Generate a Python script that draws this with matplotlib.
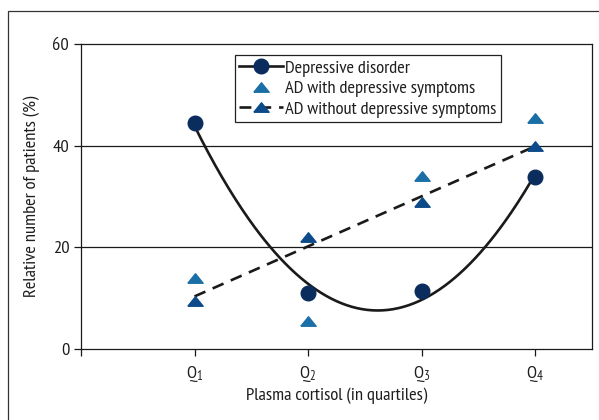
import matplotlib
matplotlib.use('Agg')
import matplotlib.pyplot as plt
import numpy as np

plt.rcParams['font.family'] = ['PT Sans Narrow', 'DejaVu Sans']

# quartile positions and labels
quartiles = [1, 2, 3, 4]
qlabels = ['$\\mathregular{Q_1}$', '$\\mathregular{Q_2}$', '$\\mathregular{Q_3}$', '$\\mathregular{Q_4}$']

# values (%)
depressive = [44.5, 11.0, 11.5, 33.8]
ad_with = [14.0, 5.5, 34.0, 45.5]
ad_without = [9.5, 22.0, 29.0, 40.0]

yticks = [0, 20, 40, 60]

c_dep = '#0b2d5e'
c_with = '#1a6fa6'
c_without = '#0c4a8a'
txt = '#1e1e1e'

# flattened triangle like the original
tri = [(-1, -0.62), (1, -0.62), (0, 0.62), (-1, -0.62)]

fig = plt.figure(figsize=(5.99, 4.2), dpi=100)
ax = fig.add_axes([0.1352, 0.169, 0.853, 0.726])

# frame around the figure (right/bottom edges fall outside the image)
fig.patches.append(plt.Rectangle((8/599, -0.1), 1.2, 1 - 11/420 + 0.1,
                                 transform=fig.transFigure, fill=False,
                                 edgecolor='#333333', linewidth=0.9))

# trend lines
xs = np.linspace(1, 4, 200)
p2 = np.polyfit(quartiles, depressive, 2)
ax.plot(xs, np.polyval(p2, xs), color='#1a1a1a', lw=1.9, zorder=2)
p1 = np.polyfit(quartiles, ad_without, 1)
ax.plot(xs, np.polyval(p1, xs), color='#1a1a1a', lw=1.9, ls=(0, (4.5, 3)), zorder=2)

ax.plot(quartiles, depressive, 'o', color=c_dep, ms=10.5, zorder=3)
ax.plot(quartiles, ad_with, ls='none', marker=tri, color=c_with, ms=11, zorder=3)
ax.plot(quartiles, ad_without, ls='none', marker=tri, color=c_without, ms=11, zorder=3)

# legend handles
h1, = ax.plot([], [], '-o', color='#1a1a1a', mfc=c_dep, mec=c_dep, ms=10.5, lw=1.9)
h2, = ax.plot([], [], ls='none', marker=tri, color=c_with, ms=11)
h3, = ax.plot([], [], ls=(0, (4.5, 3)), color='#1a1a1a', lw=1.9, marker=tri,
              mfc=c_without, mec=c_without, ms=11)
leg = ax.legend([h1, h2, h3], ['Depressive disorder', 'AD with depressive symptoms',
                               'AD without depressive symptoms'],
                loc='upper left', bbox_to_anchor=(0.301, 0.964), fontsize=13.3,
                frameon=True, fancybox=False, framealpha=1, edgecolor='#222222',
                handlelength=2.35, handletextpad=0.1, labelspacing=0.2,
                borderpad=0.25, borderaxespad=0)
leg.get_frame().set_linewidth(0.9)
for t in leg.get_texts():
    t.set_color(txt)

for y in [20, 40]:
    ax.axhline(y, color='#1a1a1a', lw=0.9, zorder=1)

ax.set_xlim(0, 4.5)
ax.set_ylim(0, 60)
ax.set_yticks(yticks)
ax.set_xticks([0] + quartiles)
ax.set_xticklabels([''] + qlabels)
ax.tick_params(axis='both', direction='out', length=5, width=0.9, colors='#1a1a1a',
               labelcolor=txt, labelsize=13.3)
ax.tick_params(axis='x', pad=6)
for s in ax.spines.values():
    s.set_linewidth(0.9)
    s.set_color('#1a1a1a')

ax.set_xlabel('Plasma cortisol (in quartiles)', fontsize=13.3, color=txt, labelpad=2)
ax.set_ylabel('Relative number of patients (%)', fontsize=13.3, color=txt, labelpad=9)

fig.savefig('out.png', dpi=100)
